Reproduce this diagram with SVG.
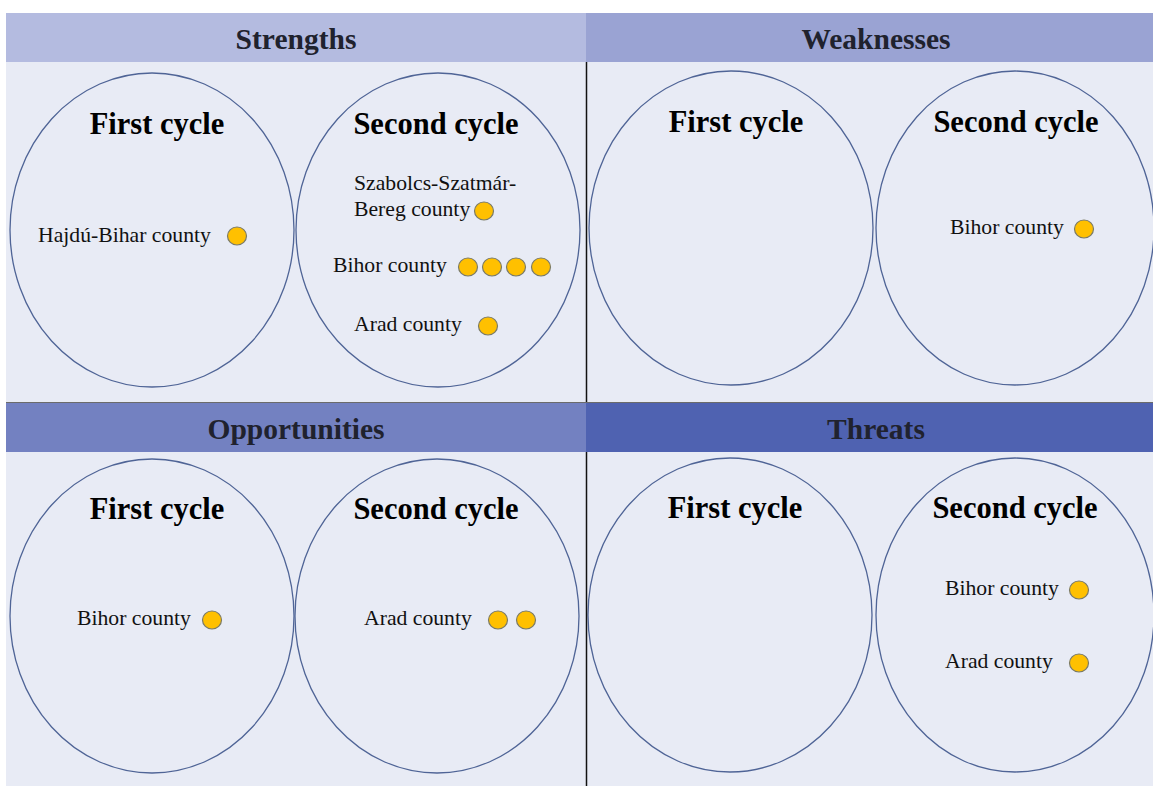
<svg xmlns="http://www.w3.org/2000/svg" width="1153" height="786" viewBox="0 0 1153 786">
<style>
.bg{fill:#e8ebf5}
.hd{font-family:"Liberation Serif","Times New Roman",serif;font-weight:bold;font-size:29.5px;fill:#20222e;text-anchor:middle}
.cy{font-family:"Liberation Serif","Times New Roman",serif;font-weight:bold;font-size:30.5px;fill:#000;text-anchor:middle}
.lb{font-family:"Liberation Serif","Times New Roman",serif;font-size:21.7px;fill:#111}
.el{fill:none;stroke:#4f6496;stroke-width:1.3}
.dot{fill:#ffc000;stroke:#7a7a66;stroke-width:1.2}
</style>
<rect x="0" y="0" width="1153" height="786" fill="#ffffff"/>
<rect class="bg" x="6" y="13" width="1147" height="773"/>

<g id="strengths">
<rect x="6" y="13" width="580" height="49" fill="#b4bbe0"/>
<text class="hd" x="296" y="49">Strengths</text>
<ellipse class="el" cx="152" cy="230" rx="142" ry="157"/>
<ellipse class="el" cx="438" cy="230" rx="142" ry="157"/>
<text class="cy" x="157" y="134">First cycle</text>
<text class="cy" x="436" y="134">Second cycle</text>
<text class="lb" x="38" y="242">Hajdú-Bihar county</text>
<ellipse class="dot" cx="237" cy="236" rx="9.5" ry="9"/>
<text class="lb" x="354" y="190">Szabolcs-Szatmár-</text>
<text class="lb" x="354" y="216">Bereg county</text>
<ellipse class="dot" cx="484" cy="211" rx="9.5" ry="9"/>
<text class="lb" x="333" y="272">Bihor county</text>
<ellipse class="dot" cx="468" cy="267" rx="9.5" ry="9"/>
<ellipse class="dot" cx="492" cy="267" rx="9.5" ry="9"/>
<ellipse class="dot" cx="516" cy="267" rx="9.5" ry="9"/>
<ellipse class="dot" cx="541" cy="267" rx="9.5" ry="9"/>
<text class="lb" x="354" y="331">Arad county</text>
<ellipse class="dot" cx="488" cy="326" rx="9.5" ry="9"/>
</g>

<g id="weaknesses">
<rect x="586" y="13" width="567" height="49" fill="#9aa3d3"/>
<text class="hd" x="876" y="49">Weaknesses</text>
<ellipse class="el" cx="731" cy="228" rx="142" ry="157"/>
<ellipse class="el" cx="1015" cy="228" rx="139" ry="157"/>
<text class="cy" x="736" y="132">First cycle</text>
<text class="cy" x="1016" y="132">Second cycle</text>
<text class="lb" x="950" y="234">Bihor county</text>
<ellipse class="dot" cx="1084" cy="229" rx="9.5" ry="9"/>
</g>

<g id="opportunities">
<rect x="6" y="402" width="580" height="50" fill="#7381c1"/>
<text class="hd" x="296" y="439">Opportunities</text>
<ellipse class="el" cx="152" cy="616" rx="142" ry="157"/>
<ellipse class="el" cx="437" cy="616" rx="142" ry="157"/>
<text class="cy" x="157" y="519">First cycle</text>
<text class="cy" x="436" y="519">Second cycle</text>
<text class="lb" x="77" y="625">Bihor county</text>
<ellipse class="dot" cx="212" cy="620" rx="9.5" ry="9"/>
<text class="lb" x="364" y="625">Arad county</text>
<ellipse class="dot" cx="498" cy="620" rx="9.5" ry="9"/>
<ellipse class="dot" cx="526" cy="620" rx="9.5" ry="9"/>
</g>

<g id="threats">
<rect x="586" y="402" width="567" height="50" fill="#4f62b1"/>
<text class="hd" x="876" y="439">Threats</text>
<ellipse class="el" cx="730" cy="615" rx="142" ry="157"/>
<ellipse class="el" cx="1015" cy="615" rx="139" ry="157"/>
<text class="cy" x="735" y="518">First cycle</text>
<text class="cy" x="1015" y="518">Second cycle</text>
<text class="lb" x="945" y="595">Bihor county</text>
<ellipse class="dot" cx="1079" cy="590" rx="9.5" ry="9"/>
<text class="lb" x="945" y="668">Arad county</text>
<ellipse class="dot" cx="1079" cy="663" rx="9.5" ry="9"/>
</g>

<g id="connectors">
<line x1="6" y1="402.5" x2="1153" y2="402.5" stroke="#6b6b6b" stroke-width="1.2"/>
<line x1="586.5" y1="62" x2="586.5" y2="402" stroke="#111" stroke-width="1.5"/>
<line x1="586.5" y1="452" x2="586.5" y2="786" stroke="#111" stroke-width="1.5"/>
</g>
</svg>
